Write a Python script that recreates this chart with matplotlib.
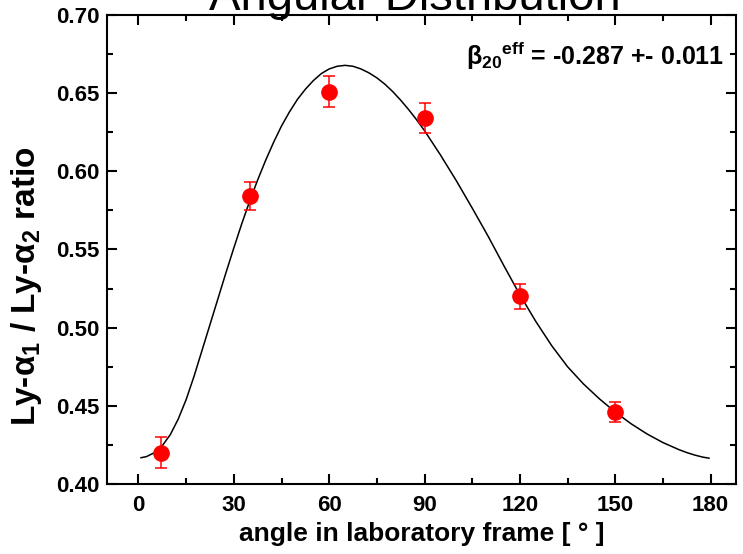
import matplotlib
matplotlib.use('Agg')
import matplotlib.pyplot as plt
from matplotlib.ticker import MultipleLocator

# measured points (angle in deg, ratio, error)
angle = [7, 35, 60, 90, 120, 150]
ratio = [0.420, 0.584, 0.651, 0.634, 0.520, 0.446]
ratio_err = [0.010, 0.009, 0.0097, 0.0096, 0.0082, 0.0062]

# fitted curve
fit_angle = [0.8, 2.5, 5, 7.5, 10, 12.5, 15, 17.5, 20, 22.5, 25, 27.5, 30,
             32.5, 35, 37.5, 40, 42.5, 45, 47.5, 50, 52.5, 55, 57.5, 60,
             62.5, 65, 67.5, 70, 72.5, 75, 77.5, 80, 82.5, 85, 87.5, 90, 95,
             100, 105, 110, 115, 120, 125, 130, 135, 140, 145, 150, 155, 160,
             165, 170, 172.5, 175, 177.5, 179.5]
fit_ratio = [0.4168, 0.4175, 0.4200, 0.4245, 0.4315, 0.4415, 0.454, 0.469,
             0.4855, 0.502, 0.5185, 0.535, 0.551, 0.5665, 0.581, 0.5945,
             0.607, 0.6185, 0.629, 0.638, 0.646, 0.6525, 0.658, 0.6625,
             0.6655, 0.6672, 0.6678, 0.6672, 0.6655, 0.663, 0.6598, 0.6558,
             0.651, 0.6455, 0.6395, 0.633, 0.626, 0.6105, 0.594, 0.5765,
             0.5585, 0.5395, 0.521, 0.504, 0.4885, 0.475, 0.464, 0.4545,
             0.446, 0.4385, 0.432, 0.4265, 0.422, 0.4201, 0.4185, 0.4172,
             0.4165]

x_ticks = [0, 30, 60, 90, 120, 150, 180]
y_ticks = [0.40, 0.45, 0.50, 0.55, 0.60, 0.65, 0.70]

plt.rcParams['font.family'] = ['Liberation Sans', 'DejaVu Sans']
plt.rcParams['mathtext.default'] = 'regular'

fig = plt.figure(figsize=(7.43, 5.54), dpi=100)
ax = fig.add_axes([0.1436, 0.1264, 0.9906 - 0.1436, 0.9729 - 0.1264])

ax.plot(fit_angle, fit_ratio, color='black', lw=1.1)
ax.errorbar(angle, ratio, yerr=ratio_err, fmt='o', color='red', ms=11,
            mec='red', ecolor='red', elinewidth=1.1, capsize=4, capthick=1.1)

ax.set_xlim(-10, 188)
ax.set_ylim(0.40, 0.70)
ax.set_xticks(x_ticks)
ax.set_yticks(y_ticks)
ax.set_yticklabels([f'{v:.2f}' for v in y_ticks])
ax.xaxis.set_minor_locator(MultipleLocator(15))
ax.yaxis.set_minor_locator(MultipleLocator(0.025))

for s in ax.spines.values():
    s.set_linewidth(1.5)
ax.tick_params(which='both', direction='in', top=True, right=True, width=1.5)
ax.tick_params(which='major', length=7.5)
ax.tick_params(which='minor', length=4)
ax.tick_params(axis='x', which='major', pad=8)
ax.tick_params(axis='y', which='major', pad=5)
for lab in ax.get_xticklabels() + ax.get_yticklabels():
    lab.set_fontsize(16)
    lab.set_fontweight('bold')

ax.set_xlabel('angle in laboratory frame [ \u00b0 ]', fontsize=19,
              fontweight='bold', labelpad=4)
fig.text(27 / 743, 1 - 286 / 554, r'Ly-$\alpha_1$ / Ly-$\alpha_2$ ratio',
         rotation=90, ha='center', va='center', fontsize=24,
         fontweight='bold')

fig.text(415 / 743, 1 - 10 / 554, 'Angular Distribution', ha='center',
         va='baseline', fontsize=34)

ax.text(103.2, 0.668, r'$\beta_{20}{}^{eff}$ = -0.287 +- 0.011',
        fontsize=18, fontweight='bold', va='baseline', ha='left')

fig.savefig('out.png', dpi=100)
